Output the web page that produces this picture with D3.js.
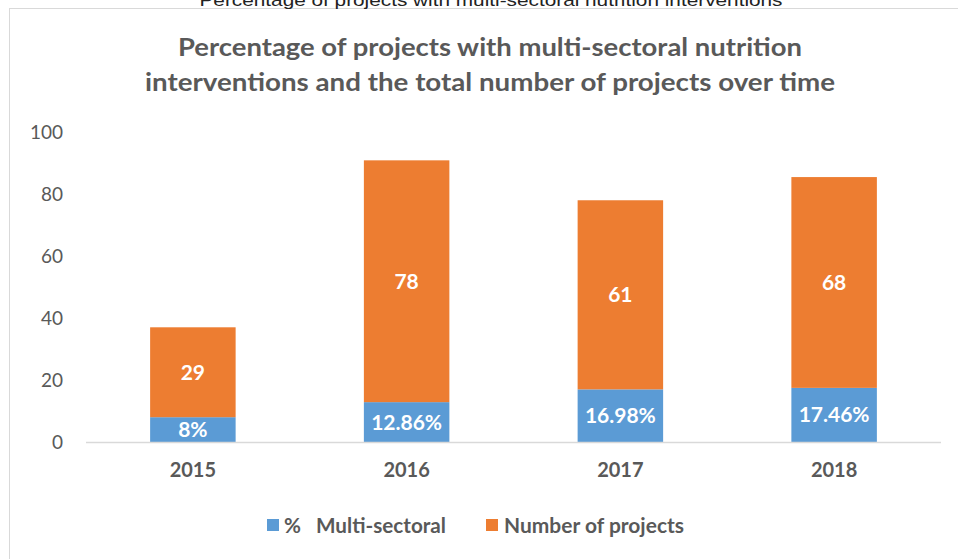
<!DOCTYPE html>
<html>
<head>
<meta charset="utf-8">
<script src="https://cdn.jsdelivr.net/npm/d3@7"></script>
<style>
  body { margin: 0; background: #fff; }
  svg { display: block; font-family: Lato, "Open Sans", sans-serif; }
</style>
</head>
<body>
<svg id="chart"></svg>
<script>
// data
var years = ["2015", "2016", "2017", "2018"];
var pctMulti = [8, 12.86, 16.98, 17.46];
var numProjects = [29, 78, 61, 68];
var pctLabels = ["8%", "12.86%", "16.98%", "17.46%"];
var yTicks = [0, 20, 40, 60, 80, 100];
var seriesNames = ["%   Multi-sectoral", "Number of projects"];
var seriesColors = ["#5B9BD5", "#ED7D31"];

var screen = { width: 958, height: 559 };
var margins = { top: 132, bottom: 117, left: 86, right: 17 };

var graphWidth = screen.width - margins.left - margins.right;
var graphHeight = screen.height - margins.top - margins.bottom;

var svg = d3.select("#chart")
  .attr("width", screen.width)
  .attr("height", screen.height);

// chart border (cut off on right/bottom)
svg.append("rect")
  .attr("x", 9.5).attr("y", 8.5)
  .attr("width", 970).attr("height", 600)
  .attr("fill", "white")
  .attr("stroke", "#d9d9d9");

// caption cut at the top
svg.append("text")
  .attr("x", 491).attr("y", 6)
  .attr("text-anchor", "middle")
  .attr("textLength", 583).attr("lengthAdjust", "spacingAndGlyphs")
  .style("font-family", "'Liberation Sans', sans-serif")
  .style("font-size", "17px")
  .attr("fill", "#222")
  .text("Percentage of projects with multi-sectoral nutrition interventions");

// title
var titleLines = ["Percentage of projects with multi-sectoral nutrition",
                  "interventions and the total number of projects over time"];
var titleWidths = [624, 690];
svg.selectAll(".title")
  .data(titleLines)
  .enter()
  .append("text")
  .attr("class", "title")
  .attr("x", 490)
  .attr("y", function(d, i) { return 56 + i * 35; })
  .attr("text-anchor", "middle")
  .attr("textLength", function(d, i) { return titleWidths[i]; })
  .attr("lengthAdjust", "spacingAndGlyphs")
  .style("font-size", "25px")
  .style("font-weight", "bold")
  .attr("fill", "#595959")
  .text(function(d) { return d; });

var xScale = d3.scaleBand()
  .domain(years)
  .range([0, graphWidth])
  .paddingInner(0.6)
  .paddingOuter(0.3);

var yScale = d3.scaleLinear()
  .domain([0, 100])
  .range([graphHeight, 0]);

var g = svg.append("g")
  .attr("transform", "translate(" + margins.left + "," + margins.top + ")");

// y axis (labels only)
var yAxis = d3.axisLeft(yScale).tickValues(yTicks).tickSize(0).tickPadding(23);
var yG = g.append("g").call(yAxis);
yG.select(".domain").remove();
yG.selectAll("text")
  .style("font-size", "19px")
  .style("font-family", "Lato, sans-serif")
  .attr("fill", "#595959");

// stacked bars
var table = years.map(function(y, i) {
  return { year: y, pct: pctMulti[i], num: numProjects[i], label: pctLabels[i] };
});
var stack = d3.stack().keys(["pct", "num"]);
var layers = stack(table);

var layerG = g.selectAll(".layer")
  .data(layers)
  .enter()
  .append("g")
  .attr("class", "layer")
  .attr("fill", function(d, i) { return seriesColors[i]; });

layerG.selectAll("rect")
  .data(function(d) { return d; })
  .enter()
  .append("rect")
  .attr("x", function(d) { return xScale(d.data.year); })
  .attr("y", function(d) { return yScale(d[1]); })
  .attr("width", xScale.bandwidth())
  .attr("height", function(d) { return yScale(d[0]) - yScale(d[1]); });

// data labels
layerG.selectAll("text")
  .data(function(d, i) { return d.map(function(p) { return { p: p, key: i }; }); })
  .enter()
  .append("text")
  .attr("x", function(d) { return xScale(d.p.data.year) + xScale.bandwidth() / 2; })
  .attr("y", function(d) { return (yScale(d.p[0]) + yScale(d.p[1])) / 2; })
  .attr("dy", "0.36em")
  .attr("text-anchor", "middle")
  .attr("fill", "white")
  .style("font-size", "21px")
  .style("font-weight", "bold")
  .text(function(d) { return d.key === 0 ? d.p.data.label : d.p.data.num; });

// baseline
g.append("line")
  .attr("x1", 0).attr("x2", graphWidth)
  .attr("y1", yScale(0) + 0.5).attr("y2", yScale(0) + 0.5)
  .attr("stroke", "#d9d9d9")
  .attr("stroke-width", 1.5);

// x axis labels
var xAxis = d3.axisBottom(xScale).tickSize(0).tickPadding(21);
var xG = g.append("g")
  .attr("transform", "translate(0," + graphHeight + ")")
  .call(xAxis);
xG.select(".domain").remove();
xG.selectAll("text")
  .style("font-size", "20px")
  .style("font-family", "Lato, sans-serif")
  .style("font-weight", "bold")
  .attr("fill", "#595959");

// legend
var legendX = [267, 486];
var legendTextW = [162, 180];
var legend = svg.selectAll(".legend")
  .data(seriesNames)
  .enter()
  .append("g")
  .attr("class", "legend")
  .attr("transform", function(d, i) { return "translate(" + legendX[i] + ",519)"; });

legend.append("rect")
  .attr("width", 12).attr("height", 12)
  .attr("fill", function(d, i) { return seriesColors[i]; });

legend.append("text")
  .attr("x", function(d, i) { return i === 0 ? 17 : 18; })
  .attr("y", 6)
  .attr("dy", "0.36em")
  .attr("textLength", function(d, i) { return legendTextW[i]; })
  .attr("lengthAdjust", "spacingAndGlyphs")
  .style("font-size", "21px")
  .style("font-weight", "bold")
  .style("white-space", "pre")
  .attr("xml:space", "preserve")
  .attr("fill", "#595959")
  .text(function(d) { return d; });
</script>
</body>
</html>
